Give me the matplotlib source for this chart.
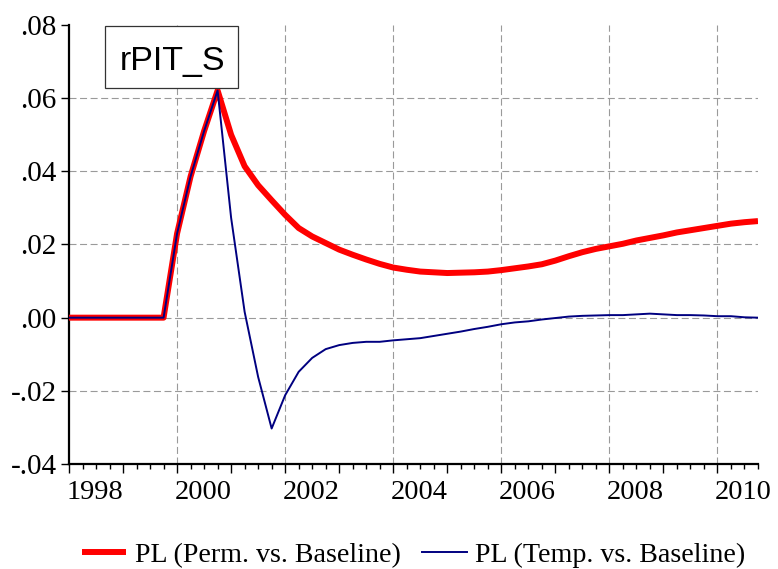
import numpy as np
import matplotlib
matplotlib.use("Agg")
import matplotlib.pyplot as plt
from matplotlib.patches import Rectangle
from matplotlib.transforms import blended_transform_factory

# Quarterly sample 1998Q1 - 2010Q4
start_year = 1998
n_quarters = 52

perm = [
    0.0, 0.0, 0.0, 0.0, 0.0, 0.0, 0.0, 0.0,                 # 1998-1999
    0.0230, 0.0386, 0.0510, 0.0621,                         # 2000
    0.0500, 0.0414, 0.0362, 0.0321,                         # 2001
    0.0281, 0.0245, 0.0222, 0.0204,                         # 2002
    0.0186, 0.0172, 0.0159, 0.0147,                         # 2003
    0.0137, 0.0131, 0.0126, 0.0124,                         # 2004
    0.0122, 0.0123, 0.0124, 0.0126,                         # 2005
    0.0130, 0.0135, 0.0140, 0.0146,                         # 2006
    0.0156, 0.0168, 0.0179, 0.0188,                         # 2007
    0.0195, 0.0202, 0.0211, 0.0218,                         # 2008
    0.0225, 0.0233, 0.0239, 0.0245,                         # 2009
    0.0251, 0.0257, 0.0261, 0.0264,                         # 2010
]

temp = [
    0.0, 0.0, 0.0, 0.0, 0.0, 0.0, 0.0, 0.0,                 # 1998-1999
    0.0230, 0.0386, 0.0510, 0.0621,                         # 2000
    0.0273, 0.0016, -0.0162, -0.0303,                       # 2001
    -0.0212, -0.0148, -0.0110, -0.0086,                     # 2002
    -0.0075, -0.0069, -0.0066, -0.0066,                     # 2003
    -0.0062, -0.0059, -0.0056, -0.0050,                     # 2004
    -0.0044, -0.0038, -0.0031, -0.0025,                     # 2005
    -0.0018, -0.0013, -0.0010, -0.0005,                     # 2006
    -0.0001, 0.0003, 0.0005, 0.0006,                        # 2007
    0.0007, 0.0007, 0.0009, 0.0011,                         # 2008
    0.0009, 0.0007, 0.0007, 0.0006,                         # 2009
    0.0004, 0.0004, 0.0001, 0.0000,                         # 2010
]

y_ticks = [-0.04, -0.02, 0.00, 0.02, 0.04, 0.06, 0.08]
y_tick_labels = ["-.04", "-.02", ".00", ".02", ".04", ".06", ".08"]
year_labels = [1998, 2000, 2002, 2004, 2006, 2008, 2010]
series_names = ["PL (Perm. vs. Baseline)", "PL (Temp. vs. Baseline)"]
title_text = "rPIT_S"

t = start_year + 0.25 * np.arange(n_quarters)

W, H = 778, 569
fig = plt.figure(figsize=(W / 100, H / 100), dpi=100)
ax = fig.add_axes([69 / W, 1 - 464 / H, (758 - 69) / W, (464 - 25) / H])

serif = "Liberation Serif"
grid_kw = dict(color="#9a9a9a", lw=0.8, linestyle=(0, (6.3, 3.2)), zorder=1)

for yv in [-0.02, 0.0, 0.02, 0.04, 0.06]:
    ax.axhline(yv, **grid_kw)
for xv in range(2000, 2011, 2):
    ax.axvline(xv, **grid_kw)

l1, = ax.plot(t, perm, color="#ff0000", lw=4.3, solid_joinstyle="round",
              solid_capstyle="butt", zorder=3)
l2, = ax.plot(t, temp, color="#000080", lw=1.4, zorder=4)

ax.set_xlim(t[0], t[-1])
ax.set_ylim(-0.04, 0.08)

for side in ["top", "right"]:
    ax.spines[side].set_visible(False)
for side in ["left", "bottom"]:
    ax.spines[side].set_linewidth(1.6)
    ax.spines[side].set_color("black")

ax.set_yticks(y_ticks)
ax.set_yticklabels(y_tick_labels, fontfamily=serif, fontsize=21)
ax.tick_params(axis="y", direction="out", length=6, width=1, pad=3)

ax.set_xticks(np.arange(1998, 2011))
ax.set_xticks(t, minor=True)
ax.set_xticklabels([])
ax.tick_params(axis="x", which="major", direction="out", length=6.5, width=1)
ax.tick_params(axis="x", which="minor", direction="out", length=3.5, width=1)

trans = blended_transform_factory(ax.transData, ax.transAxes)
for yr in year_labels:
    ax.text(yr + 0.48, -0.037, str(yr), transform=trans, ha="center", va="top",
            fontfamily=serif, fontsize=20.5)

# Series name box in the upper left corner
fig.patches.append(Rectangle((105 / W, 1 - 88 / H), 133 / W, 62 / H,
                             transform=fig.transFigure, facecolor="white",
                             edgecolor="#333333", lw=0.9, zorder=5))
fig.text(172 / W, 1 - 70 / H, title_text, fontfamily="Liberation Sans",
         fontsize=24.5, ha="center", va="baseline", zorder=6)

fig.legend([l1, l2], series_names, loc="center", ncol=2,
           bbox_to_anchor=(413.5 / W, 1 - 555 / H), frameon=False,
           prop={"family": serif, "size": 20.2}, handlelength=1.6,
           handletextpad=0.3, columnspacing=0.75, borderaxespad=0)

fig.savefig("out.png", dpi=100)
